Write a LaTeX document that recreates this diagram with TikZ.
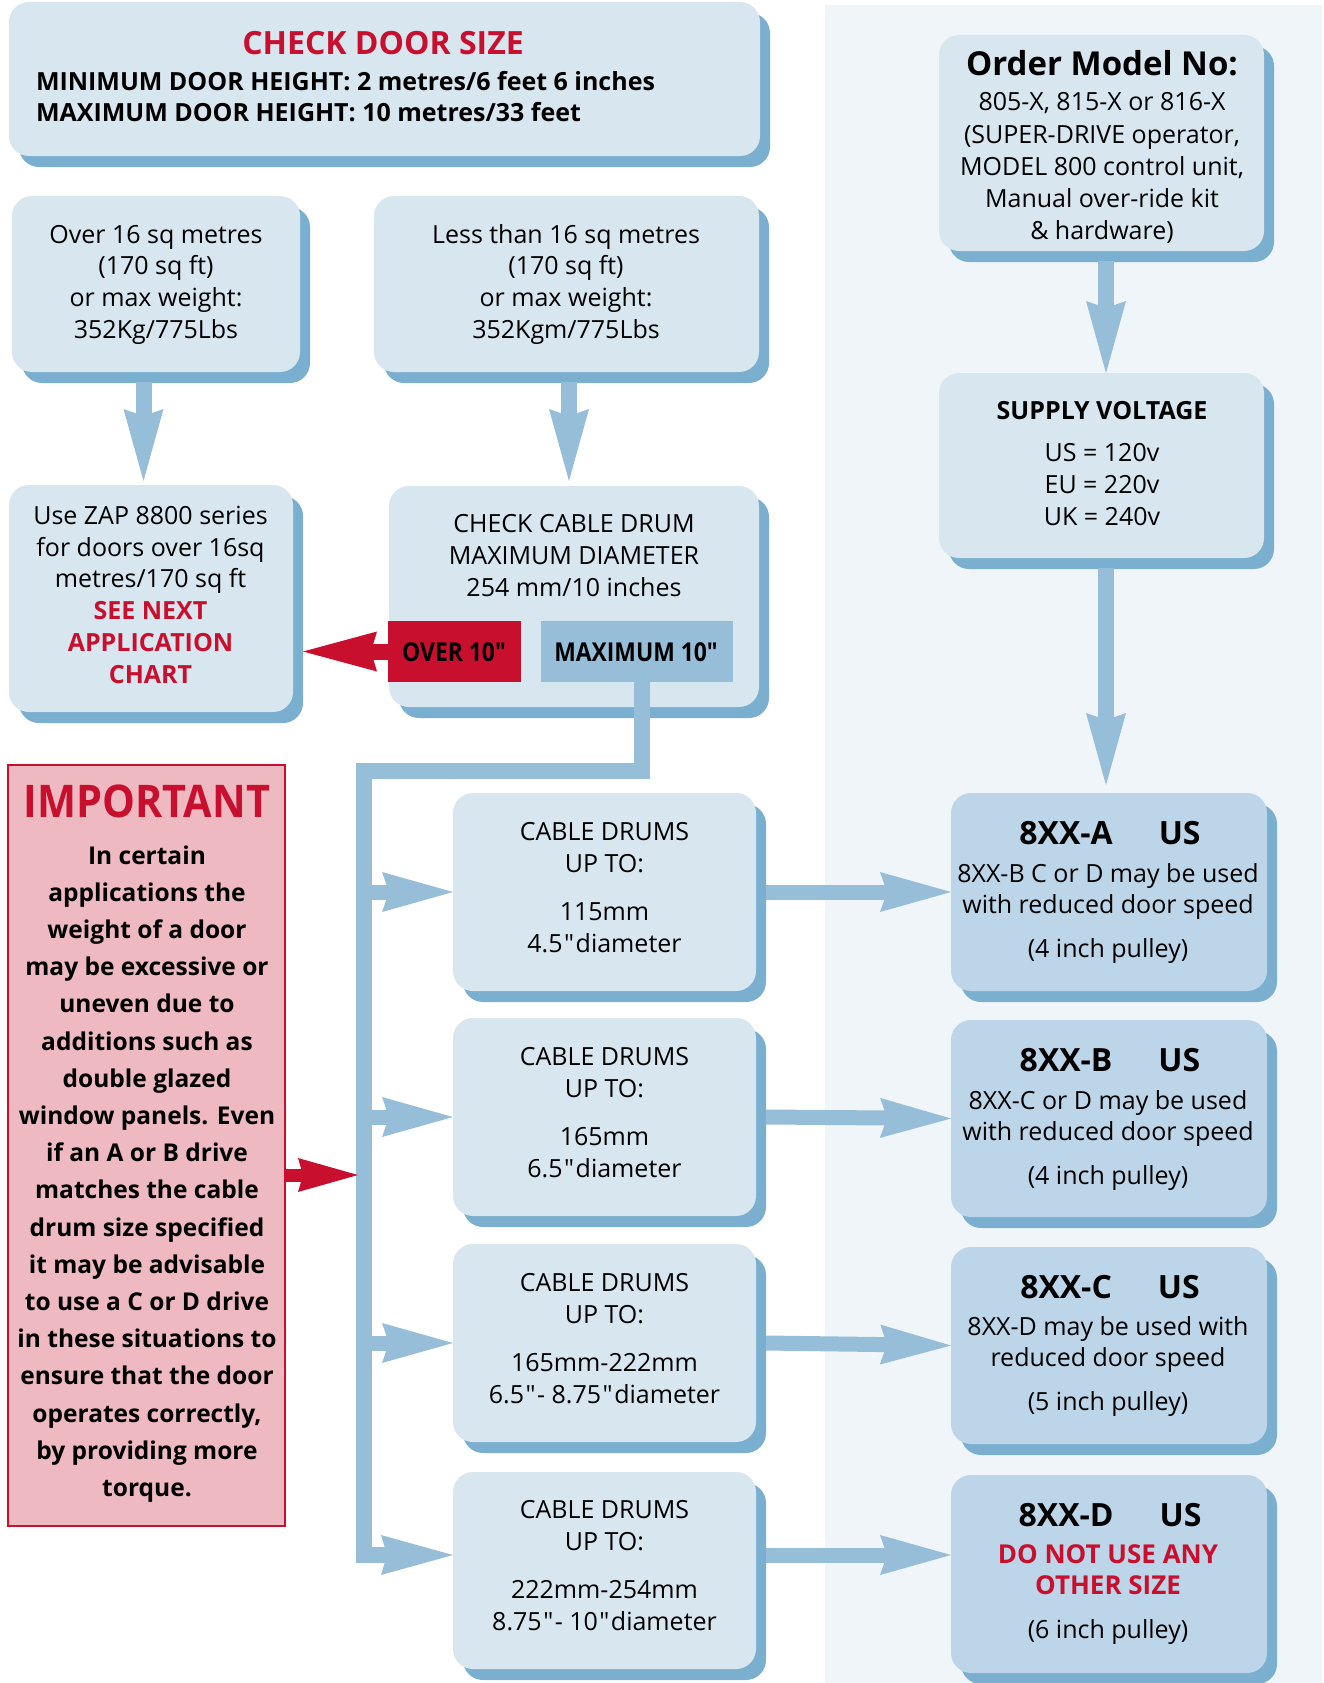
\documentclass[tikz,border=0pt]{standalone}
\usepackage{fontspec}
\setmainfont{Open Sans}
\newfontfamily\bcond[FakeStretch=0.88]{Open Sans}
\newfontfamily\impf[FakeStretch=0.92]{Open Sans}
\newfontfamily\plainos{Open Sans}
\newcommand\dq{{\plainos\kern1.5pt"\kern1.5pt}}
\usetikzlibrary{arrows.meta,shadows,calc}
\definecolor{boxfill}{HTML}{D8E6F0}
\definecolor{resfill}{HTML}{BDD5E8}
\definecolor{shblue}{HTML}{7BAFD0}
\definecolor{arrblue}{HTML}{97BED9}
\definecolor{panelbg}{HTML}{EFF5F9}
\definecolor{dred}{HTML}{C8102E}
\definecolor{pinkbg}{HTML}{EEB9C0}
\newcommand\stk[2][32pt]{\vtop{\baselineskip=#1\relax\lineskiplimit=-\maxdimen\lineskip=0pt\halign{\hfil##\hfil\cr#2\crcr}}}
\newcommand\stkl[2][32pt]{\vtop{\baselineskip=#1\relax\lineskiplimit=-\maxdimen\lineskip=0pt\halign{##\hfil\cr#2\crcr}}}
\begin{document}
\begin{tikzpicture}[x=1pt,y=-1pt,
  every node/.style={inner sep=0pt,outer sep=0pt},
  box/.style={fill=boxfill, rounded corners=20pt,
    drop shadow={shadow xshift=10pt,shadow yshift=-11pt,fill=shblue,opacity=1}},
  resbox/.style={box, fill=resfill},
  varr/.style={draw=arrblue, line width=16pt, -{Stealth[length=72pt,width=40pt,inset=7pt,line width=0pt]}},
  harr/.style={draw=arrblue, line width=15pt, -{Stealth[length=71pt,width=40pt,inset=7pt,line width=0pt]}},
  trunk/.style={draw=arrblue, line width=16pt, -{Stealth[length=72pt,width=40pt,inset=6pt,line width=0pt]}},
  rarr/.style={draw=dred, line width=16pt, -{Stealth[length=74pt,width=40pt,inset=6pt,line width=0pt]}},
  rarrs/.style={draw=dred, line width=13pt, -{Stealth[length=60pt,width=34pt,inset=5pt,line width=0pt]}},
  rg/.style={anchor=base, font=\fontsize{25}{30}\selectfont},
  bd/.style={anchor=base, font=\fontsize{#1}{30}\selectfont\bfseries},
  cbd/.style={anchor=base, font=\fontsize{#1}{30}\selectfont\bcond\bfseries}]
\useasboundingbox (0,0) rectangle (1324,1683);
\fill[white] (0,0) rectangle (1324,1683);
\fill[panelbg] (825,5) rectangle (1322,1683);

% boxes
\node[box, minimum width=751pt, minimum height=154pt] (topbox) at (384.5,79) {};
\node[box, minimum width=288pt, minimum height=176pt] (over) at (156,284) {};
\node[box, minimum width=385pt, minimum height=176pt] (less) at (566.5,284) {};
\node[box, minimum width=284pt, minimum height=227pt] (zap) at (151,598.5) {};
\node[box, minimum width=370pt, minimum height=221pt] (check) at (574,596.5) {};
\node[box, minimum width=325pt, minimum height=216pt] (order) at (1101.5,143) {};
\node[box, minimum width=325pt, minimum height=185pt] (supply) at (1101.5,465.5) {};
\node[box, minimum width=303pt, minimum height=198pt] (cable1) at (604.5,892) {};
\node[box, minimum width=303pt, minimum height=198pt] (cable2) at (604.5,1117) {};
\node[box, minimum width=303pt, minimum height=198pt] (cable3) at (604.5,1343) {};
\node[box, minimum width=303pt, minimum height=197pt] (cable4) at (604.5,1570.5) {};
\node[resbox, minimum width=316pt, minimum height=198pt] (res1) at (1109,892) {};
\node[resbox, minimum width=316pt, minimum height=197pt] (res2) at (1109,1118.5) {};
\node[resbox, minimum width=316pt, minimum height=197pt] (res3) at (1109,1345.5) {};
\node[resbox, minimum width=316pt, minimum height=198pt] (res4) at (1109,1574) {};
\node[fill=pinkbg, draw=dred, line width=2pt, minimum width=277pt, minimum height=761pt] (imp) at (146.5,1145.5) {};
\node[fill=dred, minimum width=133pt, minimum height=61pt] (over10) at (454.5,651.5) {};
\node[fill=arrblue, minimum width=192pt, minimum height=61pt] (max10) at (637,651.5) {};

% connectors
\coordinate (tk) at (364,771);
\coordinate (tb) at (364,1555);
\draw[varr, shorten >=4pt] ([xshift=-12.5pt,yshift=-10pt]over.south) -- ([xshift=-12.5pt]over.south |- zap.north);
\draw[varr, shorten >=5pt] ([xshift=2.5pt,yshift=-10pt]less.south) -- ([xshift=2.5pt]less.south |- check.north);
\draw[rarr] (over10.west) -- ([xshift=10pt]over10.west -| zap.east);
\draw[trunk] ([xshift=5pt]max10.south) |- (tk) -- (tb) -- (tb -| cable4.west);
\draw[harr] (tk |- cable1.west) -- (cable1.west);
\draw[harr] (tk |- cable2.west) -- (cable2.west);
\draw[harr] (tk |- cable3.west) -- (cable3.west);
\draw[harr] ([xshift=10pt]cable1.east) -- (res1.west);
\draw[harr] ([xshift=10pt]cable2.east) -- (res2.west);
\draw[harr] ([xshift=10pt]cable3.east) -- (res3.west);
\draw[harr] ([xshift=10pt]cable4.east |- tb) -- (res4.west |- tb);
\draw[rarrs, shorten >=6pt] ([yshift=-29.5pt]imp.east) -- ([yshift=-29.5pt]imp.east -| tk);
\draw[varr] ([xshift=4.5pt,yshift=-10pt]order.south) -- ([xshift=4.5pt]order.south |- supply.north);
\draw[varr, shorten >=8pt] ([xshift=4.5pt,yshift=-10pt]supply.south) -- ([xshift=4.5pt]supply.south |- res1.north);

% texts
\node[bd=32, text=dred] (t-top) at (383,55) {CHECK DOOR SIZE};
\node[bd=25, anchor=base west] (t-minmax) at (36,91) {\stkl[31pt]{MINIMUM DOOR HEIGHT: 2 metres/6 feet 6 inches\cr MAXIMUM DOOR HEIGHT: 10 metres/33 feet}};
\node[rg] (t-over) at (156,243) {\stk[31.7pt]{Over 16 sq metres\cr (170 sq ft)\cr or max weight:\cr 352Kg/775Lbs}};
\node[rg] (t-less) at (566,243) {\stk[31.7pt]{Less than 16 sq metres\cr (170 sq ft)\cr or max weight:\cr 352Kgm/775Lbs}};
\node[rg] (t-zap) at (150.5,524.5) {\stk[31.7pt]{Use ZAP 8800 series\cr for doors over 16sq\cr metres/170 sq ft\cr {\color{dred}\bfseries SEE NEXT}\cr {\color{dred}\bfseries APPLICATION}\cr {\color{dred}\bfseries CHART}}};
\node[rg] (t-check) at (574,532) {\stk[32pt]{CHECK CABLE DRUM\cr MAXIMUM DIAMETER\cr 254 mm/10 inches}};
\node[cbd=26] (t-o10) at (454,661) {OVER 10"};
\node[cbd=26] (t-m10) at (636,661) {MAXIMUM 10"};
\node[bd=33] (t-ordh) at (1102,76) {Order Model No:};
\node[rg] (t-ordb) at (1102,111) {\stk[32.2pt]{805-X, 815-X or 816-X\cr (SUPER-DRIVE operator,\cr MODEL 800 control unit,\cr Manual over-ride kit\cr \& hardware)}};
\node[bd=25] (t-suph) at (1102,419) {SUPPLY VOLTAGE};
\node[rg] (t-supb) at (1102,461) {\stk[32pt]{US = 120v\cr EU = 220v\cr UK = 240v}};
\node[rg] (t-c1) at (604.5,840) {\stk[32pt]{CABLE DRUMS\cr UP TO:\cr\noalign{\vskip16pt} 115mm\cr 4.5\dq diameter}};
\node[rg] (t-c2) at (604.5,1065) {\stk[32pt]{CABLE DRUMS\cr UP TO:\cr\noalign{\vskip16pt} 165mm\cr 6.5\dq diameter}};
\node[rg] (t-c3) at (604.5,1291) {\stk[32pt]{CABLE DRUMS\cr UP TO:\cr\noalign{\vskip16pt} 165mm-222mm\cr 6.5\dq- 8.75\dq diameter}};
\node[rg] (t-c4) at (604.5,1518) {\stk[32pt]{CABLE DRUMS\cr UP TO:\cr\noalign{\vskip16pt} 222mm-254mm\cr 8.75\dq- 10\dq diameter}};
\node[bd=32] (t-r1h) at (1110,844) {8XX-A\hspace{46pt}US};
\node[rg] (t-r1b) at (1108,882) {\stk[31pt]{8XX-B C or D may be used\cr with reduced door speed\cr\noalign{\vskip13pt} (4 inch pulley)}};
\node[bd=32] (t-r2h) at (1110,1071) {8XX-B\hspace{46pt}US};
\node[rg] (t-r2b) at (1108,1109) {\stk[31pt]{8XX-C or D may be used\cr with reduced door speed\cr\noalign{\vskip13pt} (4 inch pulley)}};
\node[bd=32] (t-r3h) at (1110,1298) {8XX-C\hspace{46pt}US};
\node[rg] (t-r3b) at (1108,1335) {\stk[31pt]{8XX-D may be used with\cr reduced door speed\cr\noalign{\vskip13pt} (5 inch pulley)}};
\node[bd=32] (t-r4h) at (1110,1526) {8XX-D\hspace{46pt}US};
\node[rg] (t-r4b) at (1108,1563) {\stk[31pt]{{\color{dred}\bfseries\fontsize{26}{30}\selectfont DO NOT USE ANY}\cr {\color{dred}\bfseries\fontsize{26}{30}\selectfont OTHER SIZE}\cr\noalign{\vskip13pt} (6 inch pulley)}};
\node[anchor=base, font=\fontsize{45}{45}\selectfont\impf\bfseries, text=dred] (t-imph) at (147,817) {IMPORTANT};
\node[bd=24.5] (t-impb) at (147,864) {\stk[37.2pt]{In certain\cr applications the\cr weight of a door\cr may be excessive or\cr uneven due to\cr additions such as\cr double glazed\cr window panels. Even\cr if an A or B drive\cr matches the cable\cr drum size specified\cr it may be advisable\cr to use a C or D drive\cr in these situations to\cr ensure that the door\cr operates correctly,\cr by providing more\cr torque.}};
\end{tikzpicture}
\end{document}
